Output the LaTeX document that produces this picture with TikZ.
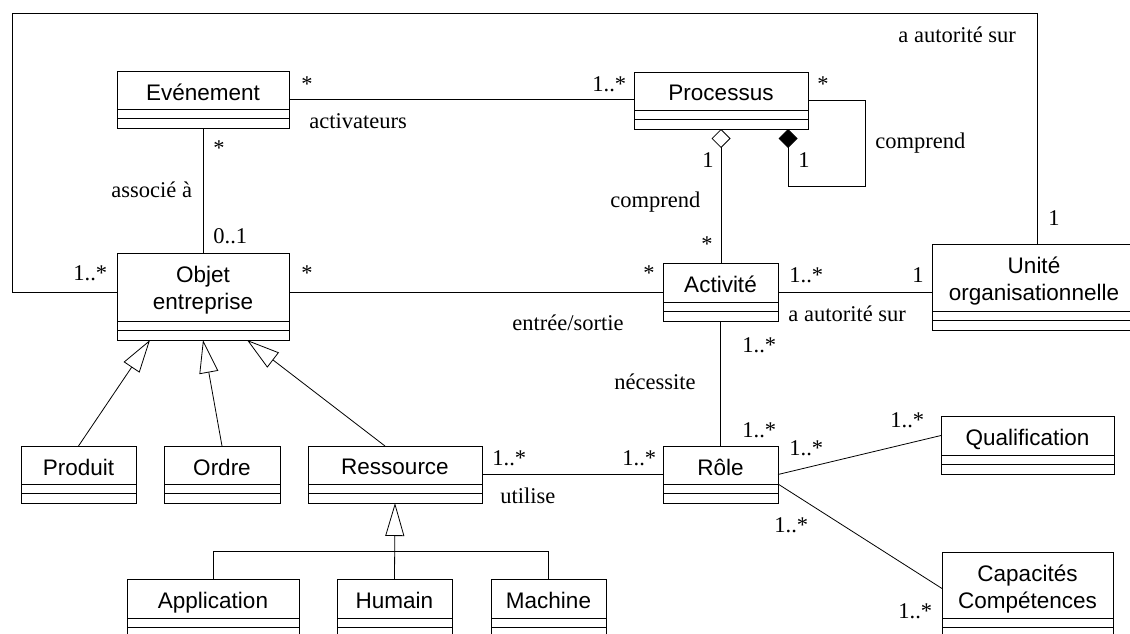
\documentclass[tikz,border=0pt]{standalone}
\usepackage{fontspec}
\setmainfont{Liberation Serif}
\setsansfont{Liberation Sans}
\usetikzlibrary{arrows.meta}

\begin{document}
\begin{tikzpicture}[x=1pt, y=-1pt, line width=0.8pt,
    cls/.style={draw, anchor=north west, inner sep=0, outer sep=0},
    clsname/.style={anchor=north, inner sep=0, align=center, font=\sffamily\fontsize{22.5}{27}\selectfont},
    lbl/.style={anchor=base west, inner sep=0, font=\fontsize{22.5}{27}\selectfont},
    gen/.style={-{Triangle[open, length=33pt, width=19pt]}},
    agg/.style={{Diamond[open, length=19pt, width=19pt]}-},
    compo/.style={{Diamond[length=19pt, width=19pt]}-}]
  \clip (0,0) rectangle (1130,634);

  % classes: name/x/y/width/header height/title
  \foreach \nm/\x/\y/\w/\h/\txt in {
      evt/117/71/172/38/{Evénement},
      obj/117/253/172/68/{Objet\\entreprise},
      proc/634/72/174/38/{Processus},
      act/663/263/115/39/{Activité},
      unit/932/244/204/67/{Unité\\organisationnelle},
      prod/21/446/115/38/{Produit},
      ordre/164/446/116/38/{Ordre},
      res/308/446/174/38/{Ressource},
      role/663/446/115/38/{Rôle},
      qual/941/416/173/39/{Qualification},
      cap/942/552/171/66/{Capacités\\Compétences},
      app/127/579/172/39/{Application},
      hum/337/579/115/39/{Humain},
      mach/491/579/115/39/{Machine}}{
    \node[cls, minimum width=\w, minimum height=\h+19] (\nm) at (\x,\y) {};
    \node[clsname] (\nm-t) at ([yshift=-13]\nm.north) {\txt};
    \draw ([yshift=-\h]\nm.north west) -- ([yshift=-\h]\nm.north east)
          ([yshift=-\h-9.5]\nm.north west) -- ([yshift=-\h-9.5]\nm.north east);
  }

  % associations
  \coordinate (topleft) at (12,13);
  \coordinate (selfloop) at (865,186);
  \draw (evt.east) -- (evt.east -| proc.west);
  \draw (evt.south) -- (obj.north);
  \draw (act.west -| obj.east) -- (act.west);
  \draw (act.west -| obj.west) -| (topleft) -| ([xshift=3]unit.north);
  \draw[agg] (proc.south) -- (proc.south |- act.north);
  \draw[compo] ([xshift=67]proc.south) |- (selfloop) |- (proc.east);
  \draw (act.east) -- (act.east -| unit.west);
  \draw (act.south) -- (role.north);
  \draw (res.east) -- (res.east -| role.west);
  \draw (role.east) -- ([yshift=9.5]qual.west);
  \draw ([yshift=-9.5]role.east) -- ([yshift=6]cap.west);

  % generalisations
  \draw[gen] (prod.north) -- ([xshift=33]obj.south west);
  \draw[gen] (ordre.north) -- ([xshift=86]obj.south west);
  \draw[gen] ([xshift=-10]res.north) -- ([xshift=130]obj.south west);
  \draw[gen] (hum.north) -- (res.south);
  \draw (app.north) -- ++(0,-28) -| (mach.north);

  % role names
  \node[lbl] (activ) at (309,128) {activateurs};
  \node[lbl] (assoc) at (111,197) {associé à};
  \node[lbl] (entsort) at (512,330) {entrée/sortie};
  \node[lbl] (compr1) at (875,148) {comprend};
  \node[lbl] (compr2) at (610,207) {comprend};
  \node[lbl] (auto1) at (788,321) {a autorité sur};
  \node[lbl] (auto2) at (898,43) {a autorité sur};
  \node[lbl] (necess) at (614,389) {nécessite};
  \node[lbl] (utilise) at (500,503) {utilise};

  % multiplicities
  \foreach \t/\x/\y [count=\i] in {*/301/92, 1..*/592/92, */213/155, 0..1/213/243,
      1..*/73/280, */301/280, */643/280, */817/92, 1/702/167, 1/798/167, */701/251,
      1..*/789/282, 1/912/282, 1..*/742/352, 1..*/742/437, 1..*/789/455, 1..*/890/427,
      1..*/774/532, 1..*/898/618, 1..*/492/465, 1..*/622/465, 1/1048/225}
    \node[lbl] (m\i) at (\x,\y) {\t};
\end{tikzpicture}
\end{document}
